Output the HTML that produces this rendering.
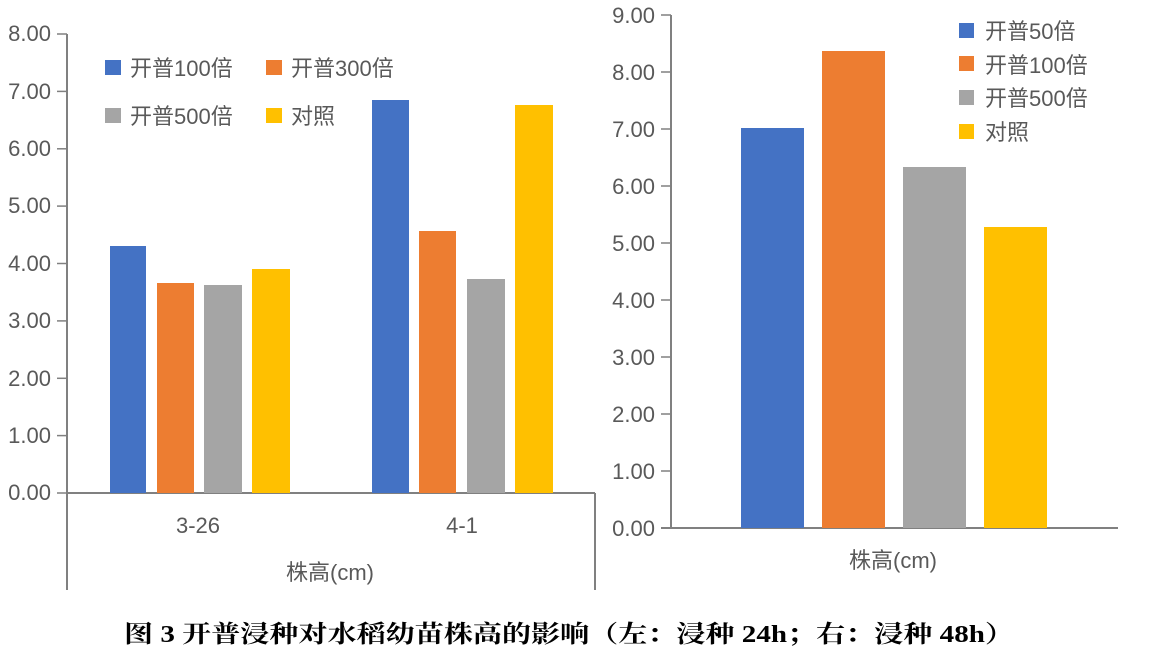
<!DOCTYPE html>
<html><head><meta charset="utf-8"><style>
html,body{margin:0;padding:0;background:#fff}
svg{display:block}
.t{font-family:"Liberation Sans","Noto Sans CJK SC",sans-serif;fill:#595959;font-size:22px}
.c{font-family:"Liberation Serif","Noto Serif CJK SC",serif;font-weight:bold;fill:#000;font-size:24px}
</style></head><body>
<svg width="1169" height="652" viewBox="0 0 1169 652">
<g stroke="#808080" stroke-width="2" fill="none">
<line x1="67" y1="34" x2="67" y2="590"/>
<line x1="67" y1="493" x2="595" y2="493"/>
<line x1="595" y1="493" x2="595" y2="590"/>
</g>
<g stroke="#808080" stroke-width="1.5">
<line x1="57" y1="34" x2="67" y2="34"/><line x1="57" y1="91.4" x2="67" y2="91.4"/>
<line x1="57" y1="148.8" x2="67" y2="148.8"/><line x1="57" y1="206.1" x2="67" y2="206.1"/>
<line x1="57" y1="263.5" x2="67" y2="263.5"/><line x1="57" y1="320.9" x2="67" y2="320.9"/>
<line x1="57" y1="378.3" x2="67" y2="378.3"/><line x1="57" y1="435.6" x2="67" y2="435.6"/>
<line x1="57" y1="493" x2="67" y2="493"/>
</g>
<g class="t" text-anchor="end">
<text x="51" y="41">8.00</text><text x="51" y="99">7.00</text><text x="51" y="156">6.00</text>
<text x="51" y="213">5.00</text><text x="51" y="271">4.00</text><text x="51" y="328">3.00</text>
<text x="51" y="386">2.00</text><text x="51" y="443">1.00</text><text x="51" y="500">0.00</text>
</g>
<rect x="110" y="246" width="36" height="247" fill="#4472C4"/>
<rect x="157" y="283" width="37" height="210" fill="#ED7D31"/>
<rect x="204" y="285" width="38" height="208" fill="#A5A5A5"/>
<rect x="252" y="269" width="38" height="224" fill="#FFC000"/>
<rect x="372" y="100" width="37" height="393" fill="#4472C4"/>
<rect x="419" y="231" width="37" height="262" fill="#ED7D31"/>
<rect x="467" y="279" width="38" height="214" fill="#A5A5A5"/>
<rect x="515" y="105" width="38" height="388" fill="#FFC000"/>
<g class="t" text-anchor="middle">
<text x="198" y="533">3-26</text><text x="462" y="533">4-1</text>
<text x="330" y="580">株高(cm)</text>
</g>
<rect x="105" y="60" width="16" height="15" fill="#4472C4"/>
<text class="t" x="130" y="76">开普100倍</text>
<rect x="266" y="60" width="16" height="15" fill="#ED7D31"/>
<text class="t" x="291" y="76">开普300倍</text>
<rect x="105" y="108" width="16" height="15" fill="#A5A5A5"/>
<text class="t" x="130" y="124">开普500倍</text>
<rect x="266" y="108" width="16" height="15" fill="#FFC000"/>
<text class="t" x="291" y="124">对照</text>

<g stroke="#808080" stroke-width="2" fill="none">
<line x1="671" y1="15" x2="671" y2="528"/>
<line x1="661" y1="528" x2="1118" y2="528"/>
</g>
<g stroke="#808080" stroke-width="1.5">
<line x1="661" y1="15" x2="671" y2="15"/><line x1="661" y1="72" x2="671" y2="72"/>
<line x1="661" y1="129" x2="671" y2="129"/><line x1="661" y1="186" x2="671" y2="186"/>
<line x1="661" y1="243" x2="671" y2="243"/><line x1="661" y1="300" x2="671" y2="300"/>
<line x1="661" y1="357" x2="671" y2="357"/><line x1="661" y1="414" x2="671" y2="414"/>
<line x1="661" y1="471" x2="671" y2="471"/>
</g>
<g class="t" text-anchor="end">
<text x="655" y="23">9.00</text><text x="655" y="80">8.00</text><text x="655" y="137">7.00</text>
<text x="655" y="194">6.00</text><text x="655" y="251">5.00</text><text x="655" y="308">4.00</text>
<text x="655" y="365">3.00</text><text x="655" y="422">2.00</text><text x="655" y="479">1.00</text>
<text x="655" y="536">0.00</text>
</g>
<rect x="741" y="128" width="63" height="400" fill="#4472C4"/>
<rect x="822" y="51" width="63" height="477" fill="#ED7D31"/>
<rect x="903" y="167" width="63" height="361" fill="#A5A5A5"/>
<rect x="984" y="227" width="63" height="301" fill="#FFC000"/>
<text class="t" x="893" y="568" text-anchor="middle">株高(cm)</text>
<rect x="959" y="23" width="15" height="15" fill="#4472C4"/>
<text class="t" x="985" y="39">开普50倍</text>
<rect x="959" y="56" width="15" height="15" fill="#ED7D31"/>
<text class="t" x="985" y="73">开普100倍</text>
<rect x="959" y="90" width="15" height="15" fill="#A5A5A5"/>
<text class="t" x="985" y="106">开普500倍</text>
<rect x="959" y="124" width="15" height="15" fill="#FFC000"/>
<text class="t" x="985" y="140">对照</text>

<text class="c" x="124" y="642" textLength="890" lengthAdjust="spacingAndGlyphs">图 3  开普浸种对水稻幼苗株高的影响（左：浸种 24h；右：浸种 48h）</text>
</svg>
</body></html>
